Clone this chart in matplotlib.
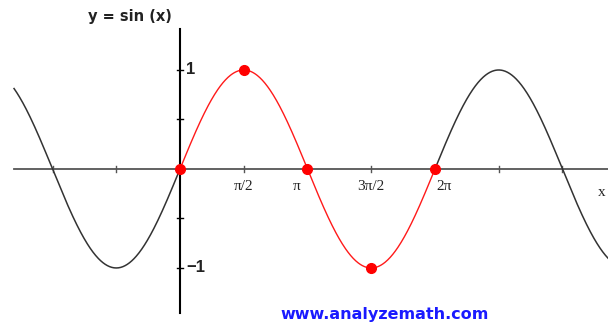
import numpy as np
import matplotlib.pyplot as plt

# curve domain (radians) and the highlighted period
x_start, x_end = -4.09, 10.6
red_start, red_end = 0.0, 2 * np.pi

# key points marked in red
key_x = [0, np.pi / 2, np.pi, 3 * np.pi / 2, 2 * np.pi]
key_y = [0, 1, 0, -1, 0]

# tick positions and labels
xtick_pos = [-np.pi, -np.pi / 2, np.pi / 2, np.pi, 3 * np.pi / 2, 2 * np.pi, 5 * np.pi / 2, 3 * np.pi]
xlabel_pos = [np.pi / 2, np.pi, 3 * np.pi / 2, 2 * np.pi]
xlabel_txt = ['π/2', 'π', '3π/2', '2π']
ytick_pos = [-1, -0.5, 0.5, 1]
ylabel_txt = {1: '1', -1: '−1'}

fig = plt.figure(figsize=(6.08, 3.24), dpi=100)
ax = fig.add_axes([0, 0, 1, 1])
ax.set_xlim(-4.436, 10.547)
ax.set_ylim(-1.566, 1.707)
ax.axis('off')

# pixel sizes in data units, for the small tick marks
px_x = (10.547 + 4.436) / 608
px_y = (1.707 + 1.566) / 324

# axes
ax.plot([x_start, 10.6], [0, 0], color='#555555', lw=1.3, zorder=1)
ax.plot([0, 0], [-1.455, 1.414], color='black', lw=1.5, zorder=1)

for t in xtick_pos:
    ax.plot([t, t], [-3 * px_y, 3 * px_y], color='#555555', lw=1.0, zorder=1)
for t in ytick_pos:
    ax.plot([-3 * px_x, 3 * px_x], [t, t], color='black', lw=1.0, zorder=1)

# sine curve: black outside the highlighted period, red inside
xl = np.linspace(x_start, red_start, 300)
xr = np.linspace(red_end, x_end, 400)
ax.plot(xl, np.sin(xl), color='#333333', lw=1.1, zorder=2)
ax.plot(xr, np.sin(xr), color='#333333', lw=1.1, zorder=2)
xm = np.linspace(red_start, red_end, 400)
ax.plot(xm, np.sin(xm), color='#ff1a1a', lw=1.0, zorder=3)
ax.plot(key_x, key_y, 'o', color='red', ms=7, zorder=4)

# labels
offsets = {'π/2': 0, 'π': -11 * px_x, '3π/2': 0, '2π': 9 * px_x}
for p, s in zip(xlabel_pos, xlabel_txt):
    ax.text(p + offsets[s], -18 * px_y, s, ha='center', va='center',
            fontsize=11, family='Liberation Serif', color='#222222')
for v, s in ylabel_txt.items():
    ax.text(6 * px_x, v, s, ha='left', va='center', fontsize=12, fontweight='bold',
            family='Liberation Sans', color='#222222')
ax.text(602 * px_x - 4.436, -24 * px_y, 'x', ha='center', va='center', fontsize=11,
        family='Liberation Serif', color='#222222')

fig.text(130 / 608, 1 - 17 / 324, 'y = sin (x)', ha='center', va='center',
         fontsize=10.5, fontweight='bold', family='DejaVu Sans', color='#222222')
fig.text(385 / 608, 1 - 314 / 324, 'www.analyzemath.com', ha='center', va='center',
         fontsize=11.5, fontweight='bold', family='DejaVu Sans', color='#1a1aff')

fig.savefig('out.png', dpi=100)
